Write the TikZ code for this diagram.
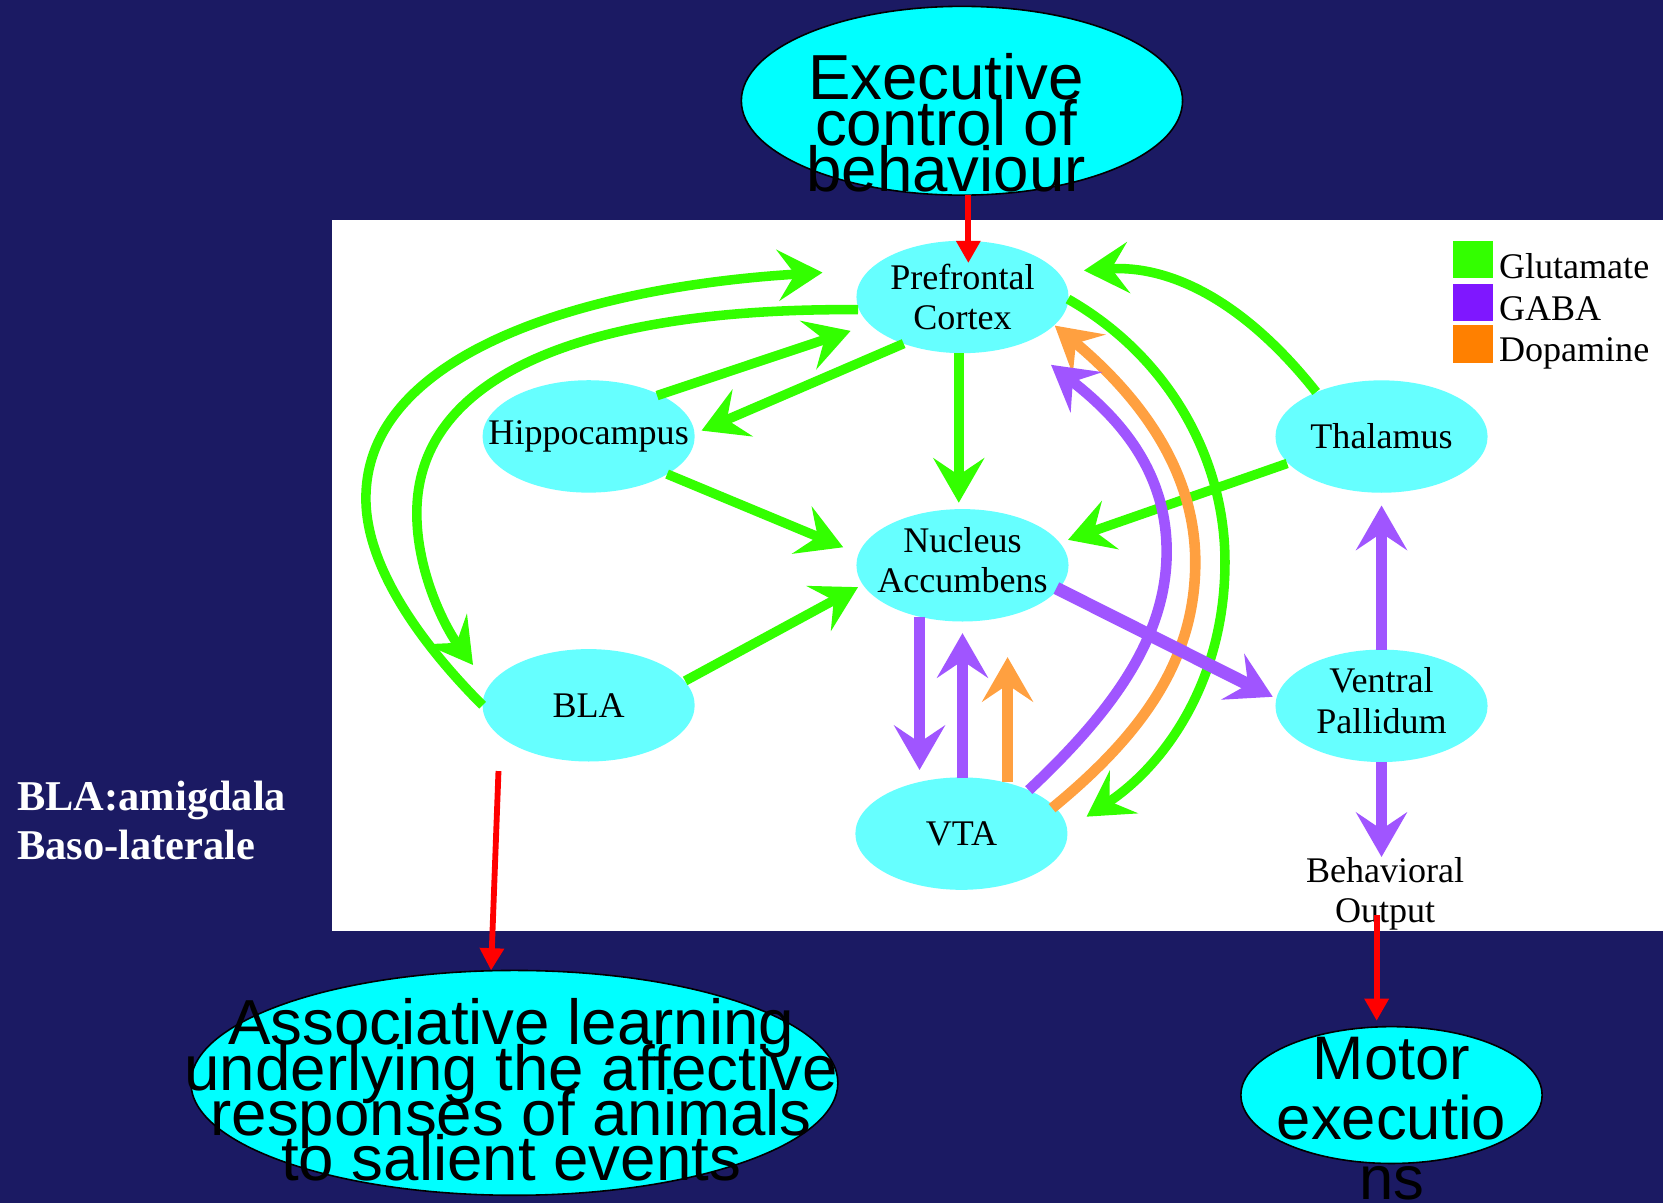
\documentclass[tikz,border=0pt]{standalone}
\usepackage{fontspec}
\setmainfont{Liberation Serif}
\newfontfamily\sansf{Liberation Sans}
\usetikzlibrary{arrows.meta,calc,shapes.geometric}
\newcommand\tightls{\lineskiplimit=-100pt\relax}
\definecolor{navy}{RGB}{27,26,99}
\definecolor{cyanA}{RGB}{0,255,255}
\definecolor{cyanB}{RGB}{102,255,255}
\definecolor{glu}{RGB}{51,255,0}
\definecolor{gaba}{RGB}{160,85,255}
\definecolor{dopa}{RGB}{255,160,64}
\definecolor{gabaL}{RGB}{127,23,255}
\definecolor{dopaL}{RGB}{255,128,0}
\definecolor{redA}{RGB}{255,0,0}
\begin{document}
\begin{tikzpicture}[x=0.5pt,y=-0.5pt,
  bigell/.style={ellipse, draw=black, line width=0.75pt, fill=cyanA, inner sep=0pt},
  bigtxt/.style={font=\sansf\fontsize{30pt}{21.75pt}\selectfont\tightls, align=center, anchor=base, inner sep=0pt, text=black},
  pell/.style={ellipse, fill=cyanB, inner sep=0pt, minimum width=100pt, minimum height=53pt},
  ptxt/.style={font=\fontsize{17pt}{19pt}\selectfont, align=center, inner sep=0pt, text=black},
  tipA/.style={-{Stealth[length=21pt,width=24pt,inset=8pt]}},
  garrow/.style={draw=glu, line width=4.5pt, tipA},
  parrow/.style={draw=gaba, line width=5pt, tipA},
  oarrow/.style={draw=dopa, line width=5pt, tipA},
  rarrow/.style={draw=redA, line width=2.75pt, -{Triangle[length=10.5pt,width=11pt]}},
  legbox/.style={rectangle, inner sep=0pt, minimum width=18.5pt, minimum height=17.5pt, anchor=north west},
  legtxt/.style={font=\fontsize{17pt}{19pt}\selectfont, anchor=base west, inner sep=0pt, text=black}
]
\useasboundingbox (0,0) rectangle (1568,1134);
\fill[navy] (0,0) rectangle (1568,1134);
\fill[white] (313,207) rectangle (1568,878);

% panel nodes
\node[pell] (pfc) at (907.5,280) {};
\node[ptxt] (pfcT) at (pfc) {Prefrontal\\Cortex};
\node[pell] (hip) at (555,411.5) {};
\node[ptxt] (hipT) at (hip) {Hippocampus};
\node[pell] (nac) at (907.5,533) {};
\node[ptxt] (nacT) at ($(nac)+(0,-5)$) {Nucleus\\Accumbens};
\node[pell] (bla) at (555,665) {};
\node[ptxt] (blaT) at (bla) {BLA};
\node[pell] (vta) at (906.5,786) {};
\node[ptxt] (vtaT) at (vta) {VTA};
\node[pell] (tha) at (1302.6,411.6) {};
\node[ptxt] (thaT) at (tha) {Thalamus};
\node[pell] (vp) at (1302.6,665.5) {};
\node[ptxt] (vpT) at ($(vp)+(0,-5)$) {Ventral\\Pallidum};
\node[ptxt] (bo) at (1306,843) {Behavioral\\Output};

% legend
\node[legbox, fill=glu] (lg1) at (1370,227) {};
\node[legbox, fill=gabaL] (lg2) at (1370,267) {};
\node[legbox, fill=dopaL] (lg3) at (1370,306.5) {};
\node[legtxt] (lt1) at (1413,262.6) {Glutamate};
\node[legtxt] (lt2) at (1413,302.4) {GABA};
\node[legtxt] (lt3) at (1413,341) {Dopamine};

% green connectors
\draw[garrow] ($(bla)+(-100,0)$) .. controls (415,625) and (345,545) .. (345,470)
  .. controls (345,330) and (560,270) .. ($(pfc)+(-132,-23)$);
\draw[garrow] ($(pfc)+(-98.5,12)$) .. controls (560,290) and (393,350) .. (393,484)
  .. controls (393,540) and (420,592) .. ($(bla)+(-109,-38)$);
\draw[garrow] ($(hip)+(64.5,-38.5)$) -- ($(pfc)+(-105.5,32)$);
\draw[garrow] ($(pfc)+(-55.5,44)$) -- ($(hip)+(106.5,-5.5)$);
\draw[garrow] ($(hip)+(74,35.5)$) -- ($(nac)+(-112.5,-17)$);
\draw[garrow] ($(pfc)+(-3.5,53)$) -- ($(nac)+(-3.5,-59)$);
\draw[garrow] ($(bla)+(91,-23)$) -- ($(nac)+(-98.5,20.6)$);
\draw[garrow] ($(tha)+(-61.6,-42)$) .. controls (1170,280) and (1100,250) .. ($(pfc)+(114.5,-25)$);
\draw[garrow] ($(tha)+(-89,25.4)$) -- ($(nac)+(99.5,-24)$);
\draw[garrow] ($(pfc)+(99.5,2)$) .. controls (1100,335) and (1155,430) .. (1155,530)
  .. controls (1155,640) and (1100,720) .. ($(vta)+(118,-16)$);

% dopamine and GABA arcs
\draw[oarrow] ($(vta)+(85.5,-24)$) .. controls (1080,690) and (1127,620) .. (1127,530)
  .. controls (1127,440) and (1070,370) .. ($(pfc)+(87,27)$);
\draw[parrow] ($(vta)+(63.5,-41)$) .. controls (1050,670) and (1100,600) .. (1100,520)
  .. controls (1100,440) and (1050,390) .. ($(pfc)+(83.5,64)$);

% vertical connectors
\draw[parrow] ($(nac)+(-40.5,48.5)$) -- ($(vta)+(-39.5,-60)$);
\draw[parrow] ($(vta)+(1,-52)$) -- ($(nac)+(0,64)$);
\draw[oarrow] ($(vta)+(43.5,-49)$) -- ($(nac)+(42.5,86.6)$);
\draw[parrow, line width=6pt] ($(nac)+(88.5,21.5)$) -- ($(vp)+(-102.6,-8.5)$);
\draw[parrow] ($(vp)+(0,-53)$) -- ($(tha)+(0,65)$);
\draw[parrow] ($(vp)+(0,53)$) -- ($(bo)+(-3.4,-35)$);

% outer annotation ellipses
\node[bigell, minimum width=208pt, minimum height=89pt] (exec) at (907,95) {};
\node[bigtxt] (execT) at (892,181) {Executive\\control of\\behaviour};
\node[bigell, minimum width=305pt, minimum height=106pt] (assoc) at (485,1021) {};
\node[bigtxt, font=\sansf\fontsize{30pt}{21.3pt}\selectfont\tightls] (assocT) at (482,1113) {Associative learning\\underlying the affective\\responses of animals\\to salient events};
\node[bigell, minimum width=142pt, minimum height=64.5pt] (motor) at (1312,1032.5) {};
\node[bigtxt, font=\sansf\fontsize{29pt}{28.25pt}\selectfont\tightls] (motorT) at (1312,1131) {Motor\\executio\\ns};

\node[font=\bfseries\fontsize{20pt}{23pt}\selectfont, text=white, align=left, anchor=base west, inner sep=0pt] (blaDef) at (16,810) {BLA:amigdala\\Baso-laterale};

% red connectors
\draw[rarrow] ($(exec)+(6,89)$) -- ($(pfc)+(5.5,-32)$);
\draw[rarrow] ($(bla)+(-85,62)$) -- ($(assoc)+(-22,-106)$);
\draw[rarrow] ($(bo)+(-8,20)$) -- ($(motor)+(-14,-70)$);
\end{tikzpicture}
\end{document}
